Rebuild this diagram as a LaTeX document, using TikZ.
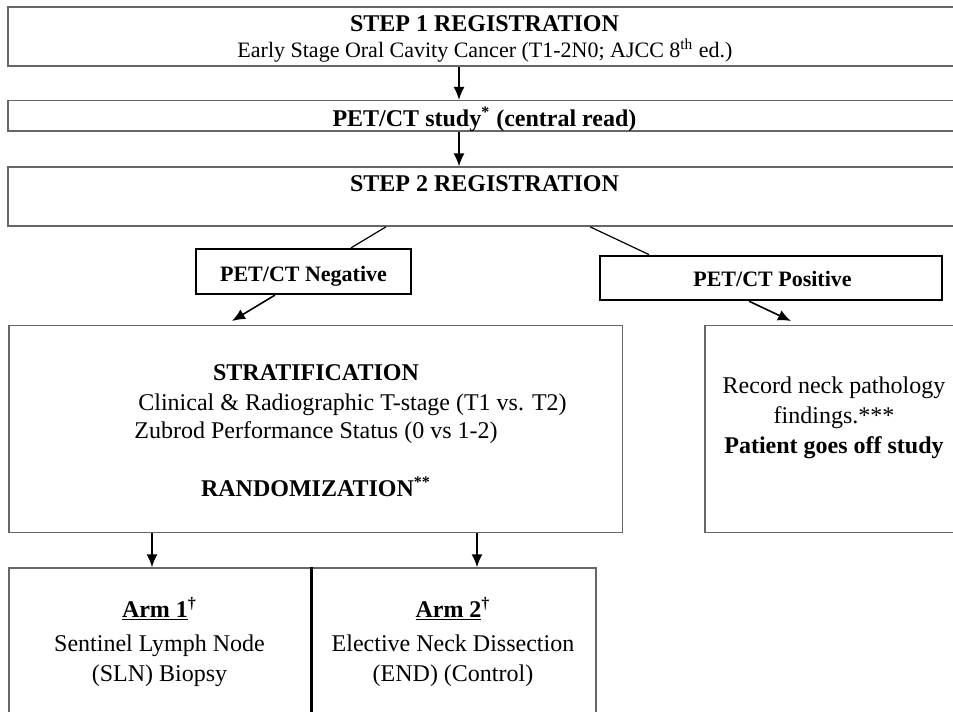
\documentclass[tikz,border=0pt]{standalone}
\usepackage{fontspec}
\setmainfont{Liberation Serif}
\usetikzlibrary{positioning,arrows.meta}

\tikzset{
  box/.style={draw=black!60, line width=0.7pt, inner sep=0pt},
  result/.style={draw=black, line width=1.1pt, inner sep=0pt},
  arr/.style={-{Latex[length=6.5pt,width=5.5pt]}, line width=0.8pt},
  txt/.style={inner sep=0pt, anchor=base, align=center, font=\fontsize{12}{15}\selectfont},
  head/.style={txt, font=\fontsize{12}{15}\selectfont\bfseries},
  small/.style={txt, font=\fontsize{11}{13}\selectfont\bfseries},
}

\begin{document}
\begin{tikzpicture}[x=0.5pt,y=-0.5pt]
  \useasboundingbox (0,0) rectangle (953,712);
  \clip (0,0) rectangle (953,712);

  %boxes
  \node[box, minimum width=477pt, minimum height=29.6pt] (reg1) at (485,36.4) {};
  \node[box, minimum width=477pt, minimum height=15.2pt] (pet) at (485,115.8) {};
  \node[box, minimum width=477pt, minimum height=29.5pt] (reg2) at (485,196.6) {};
  \node[result, minimum width=107.5pt, minimum height=22.5pt] (neg) at (303.5,271.5) {};
  \node[result, minimum width=171pt, minimum height=22.2pt] (pos) at (771,277.9) {};
  \node[box, minimum width=306.8pt, minimum height=103.5pt] (strat) at (315.8,429.2) {};
  \node[box, minimum width=128.5pt, minimum height=103.5pt] (off) at (833.5,429.2) {};
  \node[box, minimum width=151pt, minimum height=77pt] (arm1) at (160,645) {};
  \node[box, minimum width=142.5pt, minimum height=77pt] (arm2) at (453.5,645) {};
  \draw[line width=1.5pt] (arm1.north east) -- (arm1.south east);

  %texts
  \node[head] (t1) at (484.5,31.7) {STEP 1 REGISTRATION};
  \node[txt, font=\fontsize{11}{13}\selectfont] (t2) at (485,57.5) {Early Stage Oral Cavity Cancer (T1-2N0; AJCC 8\textsuperscript{th} ed.)};
  \node[head] (t3) at (484.5,126) {PET/CT study\textsuperscript{*} (central read)};
  \node[head] (t4) at (484.5,191.7) {STEP 2 REGISTRATION};
  \node[small] (tneg) at (303.5,281.7) {PET/CT Negative};
  \node[small] (tpos) at (772.5,286.7) {PET/CT Positive};
  \node[head] (s1) at (316,380) {STRATIFICATION};
  \node[txt] (s2) at (352.5,410) {Clinical \& Radiographic T-stage (T1 vs. T2)};
  \node[txt] (s3) at (316,438.5) {Zubrod Performance Status (0 vs 1-2)};
  \node[head] (s4) at (316,496.7) {RANDOMIZATION\textsuperscript{**}};
  % multi-line nodes sit on their last line
  \node[txt] (o1) at (834,453) {Record neck pathology\\findings.***\\\textbf{Patient goes off study}};
  \node[txt] (a1) at (159.5,681) {\textbf{\underline{Arm 1}}\textsuperscript{\textbf{†}}\\[2pt]Sentinel Lymph Node\\(SLN) Biopsy};
  \node[txt] (a2) at (453,681) {\textbf{\underline{Arm 2}}\textsuperscript{\textbf{†}}\\[2pt]Elective Neck Dissection\\(END) (Control)};

  %connectors
  \draw[arr] (reg1.south -| 459,0) -- (pet.north -| 459,0);
  \draw[arr] (pet.south -| 459,0) -- (reg2.north -| 459,0);
  \draw[line width=0.6pt] (reg2.south -| 386,0) -- (neg.north -| 351,0);
  \draw[line width=0.6pt] (reg2.south -| 590,0) -- (pos.north -| 649,0);
  \draw[arr] (neg.south -| 275,0) -- ([yshift=2pt]strat.north -| 232,0);
  \draw[arr] (pos.south -| 749,0) -- ([yshift=2pt]off.north -| 791,0);
  \draw[arr] (strat.south -| 152,0) -- (arm1.north -| 152,0);
  \draw[arr] (strat.south -| 477,0) -- (arm2.north -| 477,0);
\end{tikzpicture}
\end{document}
